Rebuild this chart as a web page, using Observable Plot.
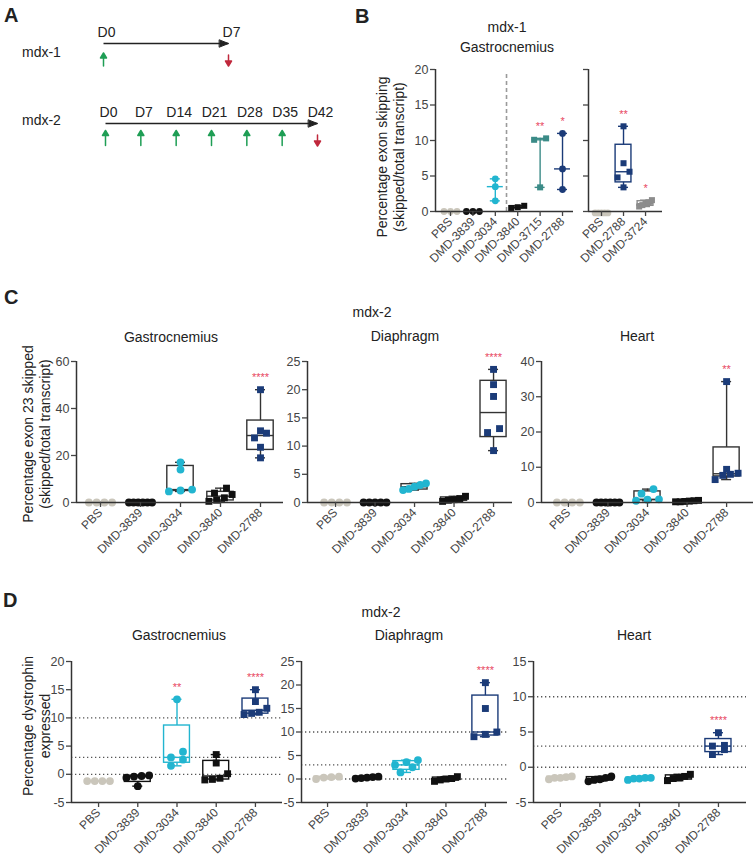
<!DOCTYPE html>
<html><head><meta charset="utf-8">
<script src="https://cdn.jsdelivr.net/npm/d3@7"></script>
<script src="https://cdn.jsdelivr.net/npm/@observablehq/plot@0.6"></script>
<style>
body{margin:0;background:#fff;}
#fig{position:relative;width:756px;height:862px;overflow:hidden;font-family:"Liberation Sans",Arial,sans-serif;color:#222;background:#fff;}
.lbl{position:absolute;white-space:nowrap;}
.plot{position:absolute;}
.plot svg{overflow:visible;}
</style></head><body><div id="fig"></div><script>
// ---------------- DATA ----------------
// Panel A: dosing schedules (days)
const daysMdx1 = [0, 7];
const doseMdx1 = [0];
const harvestMdx1 = [7];
const daysMdx2 = [0, 7, 14, 21, 28, 35, 42];
const doseMdx2 = [0, 7, 14, 21, 28, 35];
const harvestMdx2 = [42];

// Panel B (mdx-1, gastrocnemius)
const groupsB1 = ["PBS", "DMD-3839", "DMD-3034", "DMD-3840", "DMD-3715", "DMD-2788"];
const valuesB1 = [[0, 0, 0], [0, 0, 0], [4.6, 3.5, 1.5], [0.5, 0.8, 0.6], [10.3, 10.1, 3.4], [11.0, 6.0, 3.1]];
const sigB1 = ["", "", "", "", "**", "*"];
const groupsB2 = ["PBS", "DMD-2788", "DMD-3724"];
const valuesB2 = [[-0.2, -0.2, -0.2, -0.2, -0.2], [12.0, 6.8, 5.6, 4.8, 3.4], [1.6, 1.3, 1.1, 0.9, 0.7]];
const sigB2 = ["", "**", "*"];
const ticksB = [0, 5, 10, 15, 20];

// Panels C and D (mdx-2)
const groupsCD = ["PBS", "DMD-3839", "DMD-3034", "DMD-3840", "DMD-2788"];
const valuesCGastro = [[0, 0, 0, 0], [0, 0, 0, 0, 0, 0], [17.1, 14.0, 5.5, 5.1, 4.7], [6.1, 4.0, 3.4, 2.0, 1.0, 0.5], [48, 30.5, 29.5, 27.5, 23.5, 19]];
const valuesCDia = [[0, 0, 0, 0], [0, 0, 0, 0, 0], [3.4, 3.1, 2.8, 2.4, 2.2], [1.1, 0.7, 0.5, 0.4, 0.2], [23.6, 20.9, 18.8, 13.1, 12.4, 9.2]];
const valuesCHeart = [[0, 0, 0, 0], [0, 0, 0, 0, 0, 0], [3.8, 2.5, 0.9, 0.8, 0.5], [0.6, 0.5, 0.4, 0.3, 0.2, 0.2], [34.3, 9.4, 8.3, 8.0, 7.7, 6.5]];
const sigCGastro = ["", "", "", "", "****"];
const sigCDia = ["", "", "", "", "****"];
const sigCHeart = ["", "", "", "", "**"];
const ticksCGastro = [0, 20, 40, 60];
const ticksCDia = [0, 5, 10, 15, 20, 25];
const ticksCHeart = [0, 10, 20, 30, 40];

const valuesDGastro = [[-1.2, -1.2, -1.2, -1.2], [-0.2, -0.3, -0.4, -0.6, -2.1], [13.3, 4.0, 3.0, 2.6, 1.5], [3.5, 2.0, 0.1, -0.7, -0.9, -1.0], [15.0, 12.9, 11.7, 11.0, 10.8, 10.6]];
const valuesDDia = [[0.5, 0.4, 0.3, 0.0], [0.5, 0.4, 0.3, 0.2, 0.1], [4.0, 3.6, 3.0, 2.5, 1.4], [0.5, 0.1, 0.0, -0.2, -0.5], [20.5, 15.0, 10.0, 9.5, 9.0]];
const valuesDHeart = [[-1.3, -1.4, -1.5, -1.5, -1.7], [-1.3, -1.5, -1.7, -1.8, -2.0], [-1.5, -1.5, -1.6, -1.6, -1.8], [-1.0, -1.3, -1.5, -1.6, -1.9], [4.9, 3.1, 3.0, 2.5, 1.8]];
const sigDGastro = ["", "", "**", "", "****"];
const sigDDia = ["", "", "", "", "****"];
const sigDHeart = ["", "", "", "", "****"];
const ticksDGastro = [-5, 0, 5, 10, 15, 20];
const ticksDDia = [-5, 0, 5, 10, 15, 20, 25];
const ticksDHeart = [-5, 0, 5, 10, 15];
const refLinesD = [0, 3, 10];

// ---------------- STYLES ----------------
const colorOf = {"PBS": "#cac6bb", "DMD-3839": "#111111", "DMD-3034": "#22b5d0", "DMD-3840": "#111111",
  "DMD-2788": "#1b3b78", "DMD-3715": "#3b8b87", "DMD-3724": "#8c8c8c"};
const symbolsB1 = ["circle", "circle", "circle", "square", "square", "circle"];
const symbolsB2 = ["circle", "square", "square"];
const symbolsCD = ["circle", "circle", "circle", "square", "square"];
const FONT = '"Liberation Sans", Arial, sans-serif';
const RED = "#e8475f", GREEN = "#1f9e55", DARKRED = "#c0283c";

const fig = document.getElementById("fig");

function addText(txt, x, baseline, size, weight) {
  const d = document.createElement("div");
  d.className = "lbl"; d.textContent = txt;
  d.style.fontSize = size + "px"; d.style.lineHeight = size + "px";
  d.style.fontWeight = weight || "normal";
  d.style.top = (baseline - 0.846 * size) + "px";
  d.style.left = x + "px";
  fig.appendChild(d);
  return d;
}
function addCentered(txt, cx, baseline, size) {
  const d = addText(txt, cx, baseline, size);
  d.style.transform = "translateX(-50%)";
}
function addVLabel(lines, cx, cy, size, lh) {
  const d = document.createElement("div");
  d.className = "lbl";
  lines.forEach((t, i) => { if (i) d.appendChild(document.createElement("br")); d.appendChild(document.createTextNode(t)); });
  d.style.fontSize = size + "px"; d.style.lineHeight = lh + "px"; d.style.textAlign = "center";
  d.style.left = cx + "px"; d.style.top = cy + "px";
  d.style.transform = "translate(-50%,-50%) rotate(-90deg)";
  fig.appendChild(d);
}
function place(svg, left, top, w) {
  const d = document.createElement("div");
  d.className = "plot"; d.style.left = left + "px"; d.style.top = top + "px"; d.style.width = w + "px";
  d.appendChild(svg); fig.appendChild(d);
}

// quartiles, GraphPad style ((n+1)p)
function quant(sorted, p) {
  const n = sorted.length, pos = (n + 1) * p;
  if (pos <= 1) return sorted[0];
  if (pos >= n) return sorted[n - 1];
  const lo = Math.floor(pos), f = pos - lo;
  return sorted[lo - 1] + f * (sorted[lo] - sorted[lo - 1]);
}

// ---------------- PANEL A ----------------
const shaftArrow = {draw(ctx, l) { const h = 5, w = 3; ctx.moveTo(0, 0); ctx.lineTo(0, -l + h); ctx.moveTo(-w, -l + h); ctx.lineTo(0, -l); ctx.lineTo(w, -l + h); ctx.closePath(); }};
const headOnly = {draw(ctx, l) { const w = 3.6; ctx.moveTo(-w, 0); ctx.lineTo(0, -l); ctx.lineTo(w, 0); ctx.closePath(); }};

function timeline(row, days, dose, harvest, o) {
  const end = days[days.length - 1];
  const svg = Plot.plot({
    width: o.width, height: 46, marginLeft: o.ml, marginRight: o.width - o.xEnd, marginTop: 0, marginBottom: 0,
    x: {domain: [0, end], axis: null}, y: {type: "point", domain: [row], axis: null},
    style: {fontFamily: FONT, background: "transparent", overflow: "visible"},
    marks: [
      Plot.link([{a: 0, b: end}], {x1: "a", x2: "b", y1: () => row, y2: () => row, stroke: "#222", strokeWidth: 1.6}),
      Plot.vector([end], {x: d => d, y: () => row, rotate: 90, anchor: "end", length: 9, shape: headOnly, fill: "#222", stroke: "#222", strokeWidth: 1}),
      Plot.text(days, {x: d => d, y: () => row, dy: -11, dx: 3, text: d => "D" + d, fontSize: 14, fill: "#222"}),
      Plot.vector(dose, {x: d => d, y: () => row, dy: o.gdy, length: o.glen, rotate: 0, shape: shaftArrow, fill: GREEN, stroke: GREEN, strokeWidth: 1.5}),
      Plot.vector(harvest, {x: d => d, y: () => row, dy: o.rdy, length: 11, rotate: 180, shape: shaftArrow, fill: DARKRED, stroke: DARKRED, strokeWidth: 1.5})
    ]
  });
  place(svg, 0, o.top, o.width);
}
timeline("mdx-1", daysMdx1, doseMdx1, harvestMdx1, {top: 20, ml: 103, xEnd: 228, width: 262, gdy: 16, glen: 13, rdy: 17});
timeline("mdx-2", daysMdx2, doseMdx2, harvestMdx2, {top: 100, ml: 105, xEnd: 317, width: 350, gdy: 14.5, glen: 15, rdy: 17});
addText("mdx-1", 22, 57, 14);
addText("mdx-2", 22, 125, 14);

// ---------------- BOX PANELS ----------------
function boxPanel(cfg) {
  const ml = 42, mr = 12, mt = 26, mb = 72;
  const fw = cfg.frame.r - cfg.frame.l, fh = cfg.frame.b - cfg.frame.t;
  const width = fw + ml + mr, height = fh + mt + mb;
  const [x0, x1] = cfg.xDomain, [y0, y1] = cfg.yDomain;
  const kx = fw / (x1 - x0), ky = fh / (y1 - y0);
  const dots = [], stats = [];
  cfg.values.forEach((vals, i) => {
    const g = cfg.groups[i];
    const sorted = vals.slice().sort((a, b) => a - b);
    const rows = [];
    for (const v of sorted) {
      const last = rows[rows.length - 1];
      if (last && (v - last[0]) * ky < 7) last.push(v); else rows.push([v]);
    }
    const maxSpan = 0.58 * kx;
    for (const row of rows) {
      const k = row.length, sp = k > 1 ? Math.min(12, maxSpan / (k - 1)) : 0;
      row.forEach((v, j) => dots.push({g, i, v, x: i + (j - (k - 1) / 2) * sp / kx}));
    }
    stats.push({g, i, min: sorted[0], max: sorted[sorted.length - 1], q1: quant(sorted, 0.25), med: quant(sorted, 0.5), q3: quant(sorted, 0.75), sig: cfg.sig[i]});
  });
  const bs = d => cfg.boxStroke || colorOf[d.g];
  const hw = cfg.half || 0.33, capHw = 5 / kx, medHw = cfg.mode === "range" ? 8 / kx : hw;
  const sw = 1.4;
  const marks = [];
  if (cfg.refLines) marks.push(Plot.ruleY(cfg.refLines, {stroke: "#555", strokeWidth: 1.3, strokeDasharray: "1.3,2.7"}));
  if (cfg.separator != null) marks.push(Plot.ruleX([cfg.separator], {y1: y0, y2: cfg.sepTop, stroke: "#9a9a9a", strokeWidth: 1.6, strokeDasharray: "4,3"}));
  if (cfg.mode === "box") {
    marks.push(Plot.rect(stats, {x1: d => d.i - hw, x2: d => d.i + hw, y1: "q1", y2: "q3", fill: "none", stroke: bs, strokeWidth: sw}));
    marks.push(Plot.ruleX(stats, {x: "i", y1: "q3", y2: "max", stroke: bs, strokeWidth: sw}));
    marks.push(Plot.ruleX(stats, {x: "i", y1: "min", y2: "q1", stroke: bs, strokeWidth: sw}));
  } else {
    marks.push(Plot.ruleX(stats, {x: "i", y1: "min", y2: "max", stroke: bs, strokeWidth: sw}));
  }
  marks.push(Plot.ruleY(stats, {y: "max", x1: d => d.i - capHw, x2: d => d.i + capHw, stroke: bs, strokeWidth: sw}));
  marks.push(Plot.ruleY(stats, {y: "min", x1: d => d.i - capHw, x2: d => d.i + capHw, stroke: bs, strokeWidth: sw}));
  marks.push(Plot.ruleY(stats, {y: "med", x1: d => d.i - medHw, x2: d => d.i + medHw, stroke: bs, strokeWidth: sw}));
  marks.push(Plot.dot(dots, {x: "x", y: "v", r: cfg.r || 3.9, symbol: d => cfg.symbols[d.i], fill: d => colorOf[d.g], stroke: "none"}));
  marks.push(Plot.text(stats.filter(d => d.sig), {x: "i", y: "max", dy: -12, text: "sig", fill: RED, fontSize: 11}));
  marks.push(Plot.ruleY([y0], {stroke: "#333", strokeWidth: 1.5}));
  marks.push(Plot.ruleX([x0], {stroke: "#333", strokeWidth: 1.5}));
  marks.push(Plot.axisY({ticks: cfg.yTicks, tickSize: 5, tickPadding: 2, label: null, color: "#444", strokeWidth: 1.3,
    tickFormat: cfg.yLabels === false ? () => "" : d => String(d), fontSize: 12.5}));
  marks.push(Plot.axisX({ticks: d3.range(cfg.groups.length), tickFormat: i => cfg.groups[i], tickRotate: -45, tickSize: 5, tickPadding: 3, label: null, color: "#444", strokeWidth: 1.3, fontSize: 12}));
  const svg = Plot.plot({
    width, height, marginLeft: ml, marginRight: mr, marginTop: mt, marginBottom: mb,
    x: {domain: [x0, x1]}, y: {domain: [y0, y1]},
    color: {type: "identity"}, symbol: {type: "identity"},
    style: {fontFamily: FONT, fontSize: "12px", background: "transparent", overflow: "visible"},
    marks
  });
  place(svg, cfg.frame.l - ml, cfg.frame.t - mt, width);
}

// Panel B
boxPanel({groups: groupsB1, values: valuesB1, symbols: symbolsB1, sig: sigB1, frame: {l: 435, r: 573, t: 69, b: 211},
  xDomain: [-0.67, 5.49], yDomain: [0, 20], yTicks: ticksB, mode: "range", r: 3.4,
  separator: groupsB1.indexOf("DMD-3840") - 0.5, sepTop: 19.3});
boxPanel({groups: groupsB2, values: valuesB2, symbols: symbolsB2, sig: sigB2, frame: {l: 588, r: 662, t: 69, b: 211},
  xDomain: [-0.59, 2.77], yDomain: [0, 20], yTicks: ticksB, mode: "box", half: 0.36, r: 3.4, yLabels: false});

// Panel C
boxPanel({groups: groupsCD, values: valuesCGastro, symbols: symbolsCD, sig: sigCGastro, frame: {l: 76, r: 283, t: 361, b: 502},
  xDomain: [-0.6, 4.575], yDomain: [0, 60], yTicks: ticksCGastro, mode: "box", boxStroke: "#333"});
boxPanel({groups: groupsCD, values: valuesCDia, symbols: symbolsCD, sig: sigCDia, frame: {l: 307, r: 512, t: 361, b: 502},
  xDomain: [-0.71, 4.48], yDomain: [0, 25], yTicks: ticksCDia, mode: "box", boxStroke: "#333"});
boxPanel({groups: groupsCD, values: valuesCHeart, symbols: symbolsCD, sig: sigCHeart, frame: {l: 541, r: 753, t: 361, b: 502},
  xDomain: [-0.68, 4.68], yDomain: [0, 40], yTicks: ticksCHeart, mode: "box", boxStroke: "#333"});

// Panel D
boxPanel({groups: groupsCD, values: valuesDGastro, symbols: symbolsCD, sig: sigDGastro, frame: {l: 71, r: 282, t: 661, b: 802},
  xDomain: [-0.69, 4.69], yDomain: [-5, 20], yTicks: ticksDGastro, mode: "box", refLines: refLinesD});
boxPanel({groups: groupsCD, values: valuesDDia, symbols: symbolsCD, sig: sigDDia, frame: {l: 301, r: 507, t: 661, b: 802},
  xDomain: [-0.66, 4.56], yDomain: [-5, 25], yTicks: ticksDDia, mode: "box", refLines: refLinesD});
boxPanel({groups: groupsCD, values: valuesDHeart, symbols: symbolsCD, sig: sigDHeart, frame: {l: 533, r: 746, t: 661, b: 802},
  xDomain: [-0.68, 4.71], yDomain: [-5, 15], yTicks: ticksDHeart, mode: "box", refLines: refLinesD});

// ---------------- TEXT ----------------
addText("A", 4, 22, 20, "bold");
addText("B", 355, 23, 20, "bold");
addText("C", 4, 304, 20, "bold");
addText("D", 3, 607, 20, "bold");

addCentered("mdx-1", 507, 32, 14);
addCentered("Gastrocnemius", 507, 52, 14);
addCentered("mdx-2", 372, 317, 14);
addCentered("Gastrocnemius", 171, 342, 14);
addCentered("Diaphragm", 405, 341, 14);
addCentered("Heart", 637, 341, 14);
addCentered("mdx-2", 381, 617, 14);
addCentered("Gastrocnemius", 179, 640, 14);
addCentered("Diaphragm", 409, 640, 14);
addCentered("Heart", 634, 640, 14);

addVLabel(["Percentage exon skipping", "(skipped/total transcript)"], 390, 157, 14, 16.5);
addVLabel(["Percentage exon 23 skipped", "(skipped/total transcript)"], 36, 434, 14, 16.5);
addVLabel(["Percentage dystrophin", "expressed"], 36, 726, 14, 16.5);
</script></body></html>
